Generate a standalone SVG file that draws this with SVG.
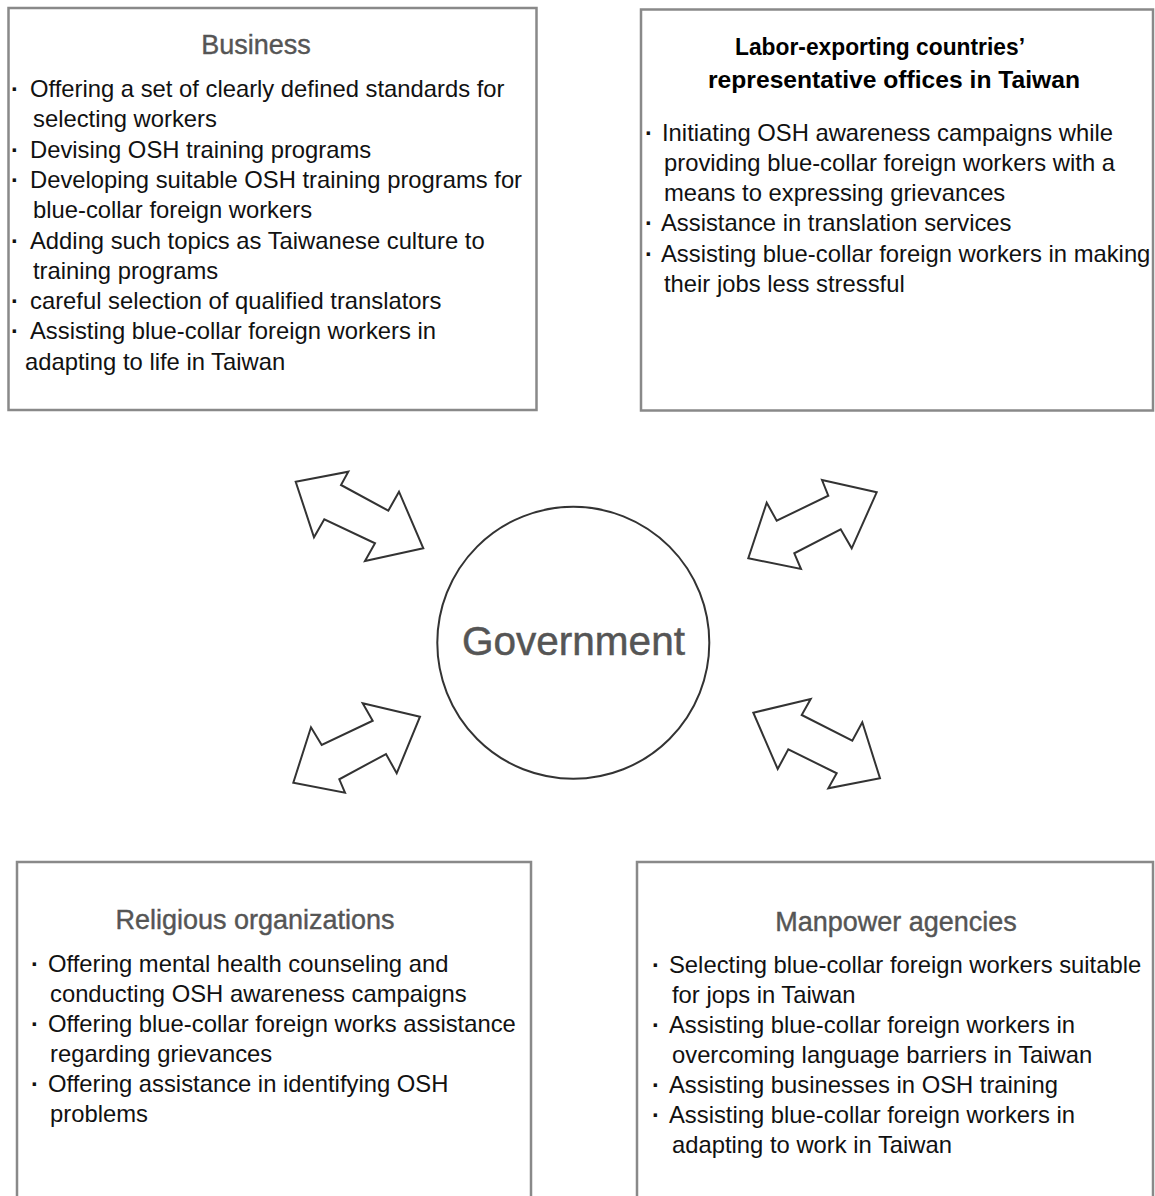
<svg xmlns="http://www.w3.org/2000/svg" width="1155" height="1196" viewBox="0 0 1155 1196">
<style>
.box{fill:#fff;stroke:#898989;stroke-width:2.5}
.arr{fill:#fff;stroke:#333;stroke-width:2;stroke-linejoin:miter}
.t{font-family:"Liberation Sans",Arial,sans-serif;font-size:27px;fill:#555;stroke:#555;stroke-width:0.4;text-anchor:middle}
.tb{font-family:"Liberation Sans",Arial,sans-serif;font-size:24px;font-weight:bold;fill:#000}
.b{font-family:"Liberation Sans",Arial,sans-serif;font-size:23.8px;fill:#111}
.d{font-family:"Liberation Sans",Arial,sans-serif;font-size:23.8px;fill:#111;font-weight:bold}
.g{font-family:"Liberation Sans",Arial,sans-serif;font-size:40.5px;fill:#555;stroke:#555;stroke-width:0.5;text-anchor:middle}
</style>
<rect width="1155" height="1196" fill="#fff"/>
<g id="business">
<rect class="box" x="8.5" y="8" width="528" height="402"/>
<text class="t" x="256" y="54">Business</text>
<text class="d" x="11" y="97">·</text><text class="b" x="30" y="97">Offering a set of clearly defined standards for</text>
<text class="b" x="33" y="127">selecting workers</text>
<text class="d" x="11" y="158">·</text><text class="b" x="30" y="158">Devising OSH training programs</text>
<text class="d" x="11" y="188">·</text><text class="b" x="30" y="188">Developing suitable OSH training programs for</text>
<text class="b" x="33" y="218">blue-collar foreign workers</text>
<text class="d" x="11" y="249">·</text><text class="b" x="30" y="249">Adding such topics as Taiwanese culture to</text>
<text class="b" x="33" y="279">training programs</text>
<text class="d" x="11" y="309">·</text><text class="b" x="30" y="309">careful selection of qualified translators</text>
<text class="d" x="11" y="339">·</text><text class="b" x="30" y="339">Assisting blue-collar foreign workers in</text>
<text class="b" x="25" y="370">adapting to life in Taiwan</text>
</g>
<g id="labor-offices">
<rect class="box" x="641" y="9.5" width="512" height="401"/>
<text class="tb" x="735" y="55" textLength="290" lengthAdjust="spacingAndGlyphs">Labor-exporting countries’</text>
<text class="tb" x="708" y="88" textLength="372" lengthAdjust="spacingAndGlyphs">representative offices in Taiwan</text>
<text class="d" x="645" y="141">·</text><text class="b" x="662" y="141">Initiating OSH awareness campaigns while</text>
<text class="b" x="664" y="171">providing blue-collar foreign workers with a</text>
<text class="b" x="664" y="201">means to expressing grievances</text>
<text class="d" x="645" y="231">·</text><text class="b" x="661" y="231">Assistance in translation services</text>
<text class="d" x="645" y="262">·</text><text class="b" x="661" y="262">Assisting blue-collar foreign workers in making</text>
<text class="b" x="664" y="292">their jobs less stressful</text>
</g>
<g id="government">
<circle cx="573.3" cy="642.8" r="136" fill="#fff" stroke="#333" stroke-width="2"/>
<text class="g" x="573.5" y="655">Government</text>
</g>
<g id="religious">
<rect class="box" x="17" y="862" width="514" height="360"/>
<text class="t" x="255" y="929">Religious organizations</text>
<text class="d" x="31" y="972">·</text><text class="b" x="48" y="972">Offering mental health counseling and</text>
<text class="b" x="50" y="1002">conducting OSH awareness campaigns</text>
<text class="d" x="31" y="1032">·</text><text class="b" x="48" y="1032">Offering blue-collar foreign works assistance</text>
<text class="b" x="50" y="1062">regarding grievances</text>
<text class="d" x="31" y="1092">·</text><text class="b" x="48" y="1092">Offering assistance in identifying OSH</text>
<text class="b" x="50" y="1122">problems</text>
</g>
<g id="manpower">
<rect class="box" x="637" y="862" width="516" height="360"/>
<text class="t" x="896" y="931">Manpower agencies</text>
<text class="d" x="652" y="973">·</text><text class="b" x="669" y="973">Selecting blue-collar foreign workers suitable</text>
<text class="b" x="672" y="1003">for jops in Taiwan</text>
<text class="d" x="652" y="1033">·</text><text class="b" x="669" y="1033">Assisting blue-collar foreign workers in</text>
<text class="b" x="672" y="1063">overcoming language barriers in Taiwan</text>
<text class="d" x="652" y="1093">·</text><text class="b" x="669" y="1093">Assisting businesses in OSH training</text>
<text class="d" x="652" y="1123">·</text><text class="b" x="669" y="1123">Assisting blue-collar foreign workers in</text>
<text class="b" x="672" y="1153">adapting to work in Taiwan</text>
</g>
<g id="connectors">
<polygon class="arr" points="295.7,481.7 348.3,471.7 341,485 388.3,510.7 399,491.7 423.3,548.3 365,561 375,543.3 324.3,519.3 314,537.3"/>
<polygon class="arr" points="822,480 876.7,492.3 851.7,548.3 840.7,529.3 794.3,553.3 801,569 748.3,558.3 766.7,502.7 776.7,520.7 828.3,495.7"/>
<polygon class="arr" points="362.7,703.3 420,716.7 396.7,773.3 386,754 339.3,779.3 345,792.7 293.3,782.7 311,727.3 321.7,745 372.7,720.7"/>
<polygon class="arr" points="753.3,712.7 810.7,699 801.7,715 852.3,740.7 862.3,722.3 880,778.3 828.3,788.3 836.7,773.3 788.3,749.3 777.7,769"/>
</g>
</svg>
